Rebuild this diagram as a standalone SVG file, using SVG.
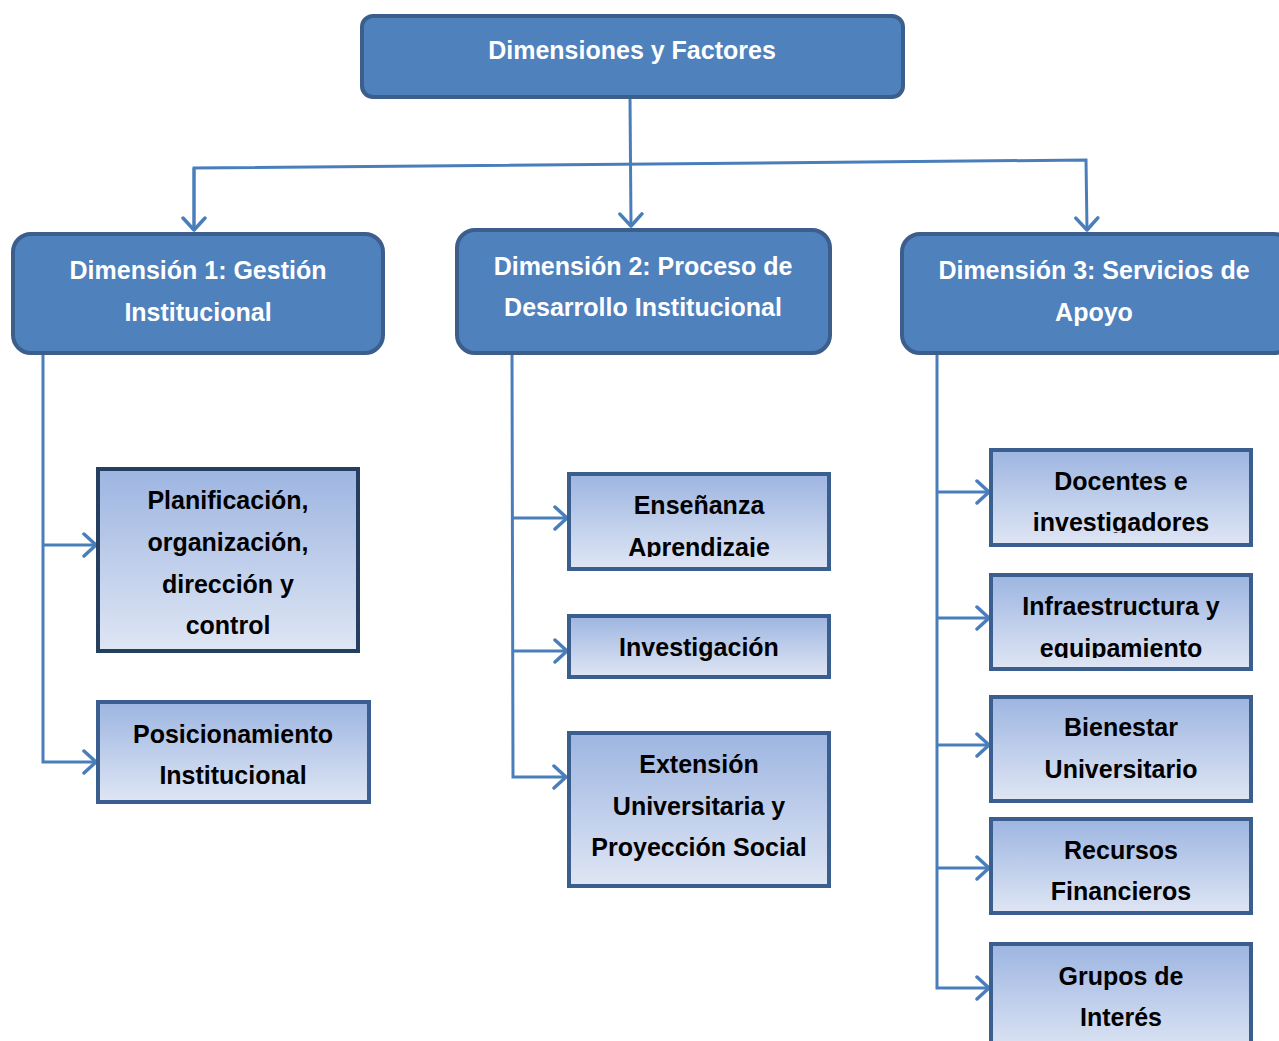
<svg xmlns="http://www.w3.org/2000/svg" width="1279" height="1041" viewBox="0 0 1279 1041">
<style>
.dim{fill:#4f81bd;stroke:#3b5e8c;stroke-width:4}
.sub{fill:url(#g);stroke:#3a5f8f;stroke-width:4}
.dark{stroke:#263f60}
.wt{font-family:"Liberation Sans",Arial,sans-serif;font-weight:bold;font-size:25px;fill:#fff;text-anchor:middle}
.bt{font-family:"Liberation Sans",Arial,sans-serif;font-weight:bold;font-size:25px;fill:#000;text-anchor:middle}
.c{fill:none;stroke:#4a7ebb;stroke-width:3}
</style>
<defs>
<linearGradient id="g" x1="0" y1="0" x2="0" y2="1">
<stop offset="0" stop-color="#9db5e1"/>
<stop offset="1" stop-color="#dfe6f4"/>
</linearGradient>
<marker id="a" markerUnits="userSpaceOnUse" markerWidth="18" markerHeight="28" refX="15" refY="13" orient="auto" viewBox="0 0 18 28">
<path d="M3,2 L15,13 L3,24" fill="none" stroke="#4a7ebb" stroke-width="3.5" stroke-linecap="round" stroke-linejoin="round"/>
</marker>
<clipPath id="c1"><rect x="569" y="474" width="260" height="83"/></clipPath>
<clipPath id="c2"><rect x="991" y="450" width="260" height="83"/></clipPath>
<clipPath id="c3"><rect x="991" y="575" width="260" height="83"/></clipPath>
</defs>
<g id="connectors">
<path class="c" d="M630,97 L631,226" marker-end="url(#a)"/>
<path class="c" d="M194,230 L194,168 L1086,160 L1087,230" marker-end="url(#a)"/>
<path class="c" d="M194,168 L194,230" marker-end="url(#a)"/>
<path class="c" d="M43,353 L43,762 L96,762" marker-end="url(#a)"/>
<path class="c" d="M43,545 L96,545" marker-end="url(#a)"/>
<path class="c" d="M512,353 L513,777 L566,777" marker-end="url(#a)"/>
<path class="c" d="M512,518 L567,518" marker-end="url(#a)"/>
<path class="c" d="M512,651 L567,651" marker-end="url(#a)"/>
<path class="c" d="M937,353 L937,988 L989,988" marker-end="url(#a)"/>
<path class="c" d="M937,492 L989,492" marker-end="url(#a)"/>
<path class="c" d="M937,618 L989,618" marker-end="url(#a)"/>
<path class="c" d="M937,745 L989,745" marker-end="url(#a)"/>
<path class="c" d="M937,868 L989,868" marker-end="url(#a)"/>
</g>
<g id="root">
<rect class="dim" x="362" y="16" width="541" height="81" rx="11"/>
<text class="wt" x="632" y="59">Dimensiones y Factores</text>
</g>
<g id="dim1">
<rect class="dim" x="13" y="234" width="370" height="119" rx="18"/>
<text class="wt" x="198" y="279">Dimensión 1: Gestión</text>
<text class="wt" x="198" y="321">Institucional</text>
</g>
<g id="dim2">
<rect class="dim" x="457" y="230" width="373" height="123" rx="18"/>
<text class="wt" x="643" y="275">Dimensión 2: Proceso de</text>
<text class="wt" x="643" y="316">Desarrollo Institucional</text>
</g>
<g id="dim3">
<rect class="dim" x="902" y="234" width="390" height="119" rx="18"/>
<text class="wt" x="1094" y="279">Dimensión 3: Servicios de</text>
<text class="wt" x="1094" y="321">Apoyo</text>
</g>
<g id="planificacion">
<rect class="sub dark" x="98" y="469" width="260" height="182"/>
<text class="bt" x="228" y="509">Planificación,</text>
<text class="bt" x="228" y="551">organización,</text>
<text class="bt" x="228" y="593">dirección y</text>
<text class="bt" x="228" y="634">control</text>
</g>
<g id="posicionamiento">
<rect class="sub" x="98" y="702" width="271" height="100"/>
<text class="bt" x="233" y="743">Posicionamiento</text>
<text class="bt" x="233" y="784">Institucional</text>
</g>
<g id="ensenanza">
<rect class="sub" x="569" y="474" width="260" height="95"/>
<g clip-path="url(#c1)">
<text class="bt" x="699" y="514">Enseñanza</text>
<text class="bt" x="699" y="556">Aprendizaje</text>
</g>
</g>
<g id="investigacion">
<rect class="sub" x="569" y="616" width="260" height="61"/>
<text class="bt" x="699" y="656">Investigación</text>
</g>
<g id="extension">
<rect class="sub" x="569" y="733" width="260" height="153"/>
<text class="bt" x="699" y="773">Extensión</text>
<text class="bt" x="699" y="815">Universitaria y</text>
<text class="bt" x="699" y="856">Proyección Social</text>
</g>
<g id="docentes">
<rect class="sub" x="991" y="450" width="260" height="95"/>
<g clip-path="url(#c2)">
<text class="bt" x="1121" y="490">Docentes e</text>
<text class="bt" x="1121" y="531">investigadores</text>
</g>
</g>
<g id="infraestructura">
<rect class="sub" x="991" y="575" width="260" height="94"/>
<g clip-path="url(#c3)">
<text class="bt" x="1121" y="615">Infraestructura y</text>
<text class="bt" x="1121" y="657">equipamiento</text>
</g>
</g>
<g id="bienestar">
<rect class="sub" x="991" y="697" width="260" height="104"/>
<text class="bt" x="1121" y="736">Bienestar</text>
<text class="bt" x="1121" y="778">Universitario</text>
</g>
<g id="recursos">
<rect class="sub" x="991" y="819" width="260" height="94"/>
<text class="bt" x="1121" y="859">Recursos</text>
<text class="bt" x="1121" y="900">Financieros</text>
</g>
<g id="grupos">
<rect class="sub" x="991" y="944" width="260" height="110"/>
<text class="bt" x="1121" y="985">Grupos de</text>
<text class="bt" x="1121" y="1026">Interés</text>
</g>
</svg>
